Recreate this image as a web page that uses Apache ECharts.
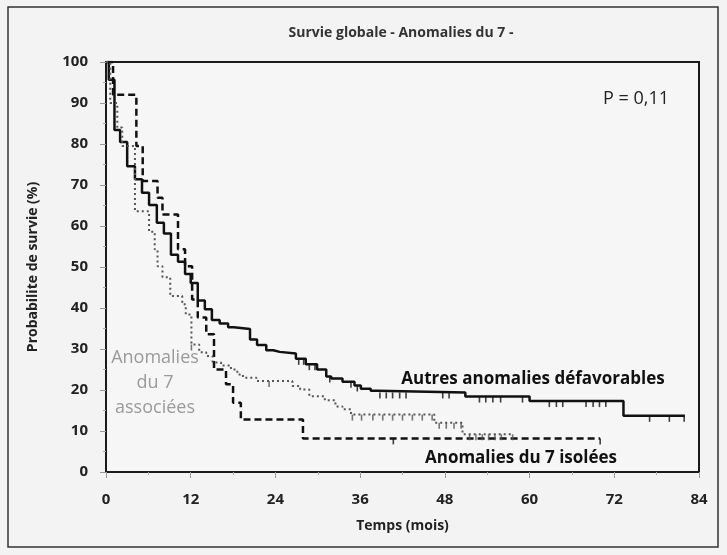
<!DOCTYPE html>
<html>
<head>
<meta charset="utf-8">
<script src="https://cdn.jsdelivr.net/npm/echarts@6/dist/echarts.min.js"></script>
<style>
  html, body { margin: 0; padding: 0; background: #f3f3f3; }
  #chart { width: 727px; height: 555px; }
</style>
</head>
<body>
<div id="chart"></div>
<script>
// Autres anomalies defavorables (solid)
const autresT = [0, 0.4, 1.2, 2.0, 3.0, 4.1, 5.1, 6.1, 7.2, 8.2, 9.2, 10.2, 11.2, 12.0, 13.0, 14.0, 15.0, 16.1, 17.3, 18.1, 20.4, 21.4, 22.7, 23.7, 24.6, 26.9, 28.3, 29.9, 31.2, 31.9, 33.5, 35.2, 36.1, 37.5, 38.4, 50.9, 60.0, 73.3, 82]
const autresS = [100, 95.7, 83.4, 80.5, 74.6, 71.4, 68.1, 65.1, 60.8, 58.2, 53.0, 51.3, 48.3, 46.1, 41.8, 39.7, 37.1, 36.2, 35.3, 34.9, 32.3, 31.0, 29.7, 29.3, 28.9, 27.6, 26.3, 25.0, 23.3, 22.8, 22.0, 21.1, 20.3, 19.8, 19.4, 18.4, 17.3, 13.7, 13.7]
const autresCens = [27.3, 28.0, 28.8, 29.6, 31.7, 34.7, 35.6, 38.8, 39.7, 40.6, 41.6, 42.5, 47.7, 48.6, 52.9, 53.8, 54.8, 55.9, 59.0, 62.8, 63.8, 64.7, 68.0, 69.0, 69.9, 70.8, 77.0, 79.8, 81.9]

// Anomalies du 7 isolees (dashed)
const isoT = [0, 1.0, 4.3, 5.2, 7.3, 8.0, 10.2, 11.2, 12.2, 13.0, 14.2, 15.3, 17.0, 18.0, 19.1, 27.9, 70]
const isoS = [100, 92, 79.5, 71, 66.9, 62.8, 54.3, 50.2, 42.1, 37.7, 33.6, 25, 21.4, 16.9, 12.8, 8.2, 8.2]
const isoCens = [40.7, 70]

// Anomalies du 7 associees (dotted)
const assT = [0, 0.6, 1.6, 2.3, 4.1, 6.1, 6.9, 7.3, 8.0, 9.1, 10.8, 11.3, 12.1, 13.2, 14.2, 15.1, 16.3, 17.7, 18.6, 19.4, 21.3, 26.4, 27.5, 28.8, 31.0, 32.5, 33.5, 34.7, 46.5, 50.5, 57.6]
const assS = [100, 90, 84, 79.5, 63.6, 58.6, 54.3, 50.2, 47.5, 42.9, 40.9, 38.4, 31.1, 29.2, 28.3, 26.7, 26.0, 25.0, 23.8, 23.0, 22.2, 21.0, 20.1, 18.5, 17.5, 16.0, 15.3, 14.0, 12.0, 9.2, 9.2]
const assCens = [12.1, 23.1, 34.9, 36.2, 37.8, 39.2, 40.6, 42.0, 43.4, 44.8, 46.2, 47.2, 48.2, 49.3, 50.3, 51.5, 52.4, 53.3, 54.2, 55.1, 56.0, 57.6]

const xTicks = [0, 12, 24, 36, 48, 60, 72, 84]
const yTicks = [0, 10, 20, 30, 40, 50, 60, 70, 80, 90, 100]

function pairs(T, S) {
  return T.map((t, i) => [t, S[i]])
}
function survAt(T, S, t) {
  let v = S[0]
  for (let i = 0; i < T.length; i++) {
    if (T[i] <= t) v = S[i]
  }
  return v
}
function censPts(T, S, C) {
  return C.map(t => [t, survAt(T, S, t)])
}

const chart = echarts.init(document.getElementById('chart'))
const FONT = '"Open Sans", Lato, sans-serif'

function kmLine(name, T, S, color, type, width) {
  return {
    name: name,
    type: 'line',
    step: 'end',
    data: pairs(T, S),
    showSymbol: false,
    animation: false,
    lineStyle: { color: color, type: type, width: width },
    z: 3
  }
}
function censor(name, T, S, C, color) {
  return {
    name: name,
    type: 'scatter',
    data: censPts(T, S, C),
    symbol: 'rect',
    symbolSize: [1.6, 6],
    symbolOffset: [0, 3],
    itemStyle: { color: color },
    animation: false,
    z: 4
  }
}
function txt(text, x, y, font, fill, extra) {
  return {
    type: 'text', x: x, y: y, silent: true,
    style: Object.assign({ text: text, font: font, fill: fill,
      align: 'center', verticalAlign: 'middle', textAlign: 'center', textVerticalAlign: 'middle' }, extra || {})
  }
}

const option = {
  backgroundColor: '#f3f3f3',
  grid: {
    left: 106, right: 28, top: 62, bottom: 83,
    show: true,
    backgroundColor: '#f6f6f6',
    borderColor: '#1a1a1a',
    borderWidth: 2
  },
  xAxis: {
    type: 'value',
    min: 0, max: 84, interval: 12,
    name: 'Temps (mois)',
    nameLocation: 'middle',
    nameGap: 47,
    nameTextStyle: { fontFamily: FONT, fontWeight: 'bold', fontSize: 14, color: '#222' },
    axisLine: { show: true, lineStyle: { color: '#1a1a1a', width: 2 } },
    axisTick: { show: true, length: 6, lineStyle: { color: '#999' } },
    minorTick: { show: true, splitNumber: 2, length: 3, lineStyle: { color: '#aaa' } },
    splitLine: { show: false },
    axisLabel: { margin: 20, fontFamily: FONT, fontWeight: 'bold', fontSize: 15, color: '#222',
      formatter: v => xTicks.includes(v) ? String(v) : '' }
  },
  yAxis: {
    type: 'value',
    min: 0, max: 100, interval: 10,
    name: 'Probabilite de survie (%)',
    nameLocation: 'middle',
    nameGap: 66,
    nameTextStyle: { fontFamily: FONT, fontWeight: 'bold', fontSize: 14, color: '#222' },
    axisLine: { show: true, lineStyle: { color: '#1a1a1a', width: 2 } },
    axisTick: { show: true, length: 6, lineStyle: { color: '#999' } },
    minorTick: { show: true, splitNumber: 2, length: 3, lineStyle: { color: '#aaa' } },
    splitLine: { show: false },
    axisLabel: { margin: 18, fontFamily: FONT, fontWeight: 'bold', fontSize: 15, color: '#222',
      formatter: v => yTicks.includes(v) ? String(v) : '' }
  },
  graphic: [
    { type: 'rect', shape: { x: 8, y: 7, width: 710, height: 540 },
      style: { fill: 'none', stroke: '#333', lineWidth: 1.5 }, silent: true },
    txt('Survie globale - Anomalies du 7 -', 401, 33, 'bold 14px ' + FONT, '#333'),
    txt('P = 0,11', 636, 99, '18px ' + FONT, '#222'),
    txt('Autres anomalies défavorables', 533, 379, 'bold 17px ' + FONT, '#111'),
    txt('Anomalies du 7 isolées', 521, 458, 'bold 17px ' + FONT, '#111'),
    txt('Anomalies\ndu 7\nassociées', 155, 383, '18px ' + FONT, '#9a9a9a', { lineHeight: 25 })
  ],
  series: [
    kmLine('Autres anomalies défavorables', autresT, autresS, '#111', 'solid', 2.5),
    kmLine('Anomalies du 7 isolées', isoT, isoS, '#111', [7, 4], 2.5),
    kmLine('Anomalies du 7 associées', assT, assS, '#555', [2, 3], 2),
    censor('c1', autresT, autresS, autresCens, '#111'),
    censor('c2', isoT, isoS, isoCens, '#111'),
    censor('c3', assT, assS, assCens, '#555')
  ]
}
chart.setOption(option)
</script>
</body>
</html>
